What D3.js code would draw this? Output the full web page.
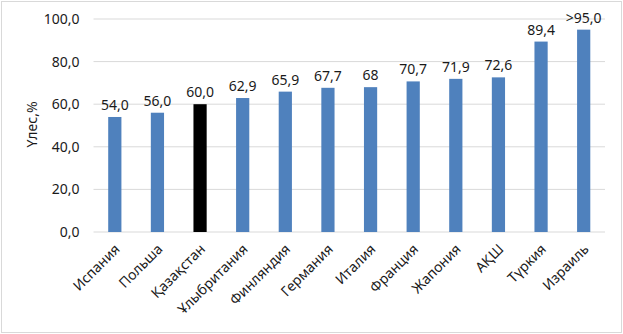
<!DOCTYPE html>
<html>
<head>
<meta charset="utf-8" />
<script src="https://d3js.org/d3.v7.min.js"></script>
<style>
  body { margin: 0; background: #fff; }
  text { font-family: "Noto Sans", sans-serif; fill: #1a1a1a; }
</style>
</head>
<body>
<div id="chart"></div>
<script>
var countries = ["Испания", "Польша", "Қазақстан", "Ұлыбритания", "Финляндия", "Германия",
                 "Италия", "Франция", "Жапония", "АҚШ", "Түркия", "Израиль"];
var values = [54.0, 56.0, 60.0, 62.9, 65.9, 67.7, 68, 70.7, 71.9, 72.6, 89.4, 95.0];
var valueLabels = ["54,0", "56,0", "60,0", "62,9", "65,9", "67,7", "68", "70,7", "71,9", "72,6", "89,4", ">95,0"];
var highlight = "Қазақстан";
var yTicks = [0, 20, 40, 60, 80, 100];

var W = 623, H = 334;
var margin = {top: 19, right: 18, bottom: 102, left: 93.5};
var width = W - margin.left - margin.right,
    height = H - margin.top - margin.bottom;

var svg = d3.select("#chart").append("svg")
    .attr("width", W)
    .attr("height", H);

svg.append("rect")
    .attr("x", 1.5).attr("y", 1.5)
    .attr("width", W - 3).attr("height", H - 3)
    .style("fill", "#fff")
    .style("stroke", "#d9d9d9");

var g = svg.append("g")
    .attr("transform", "translate(" + margin.left + "," + margin.top + ")");

var x = d3.scaleBand()
    .domain(countries)
    .range([0, width])
    .paddingInner(0.69)
    .paddingOuter(0.345);

var y = d3.scaleLinear()
    .domain([0, 100])
    .range([height, 0]);

// gridlines
g.selectAll(".grid")
    .data(yTicks)
    .enter().append("line")
    .attr("x1", 0).attr("x2", width)
    .attr("y1", function(d) { return y(d); })
    .attr("y2", function(d) { return y(d); })
    .style("stroke", "#d9d9d9")
    .style("stroke-width", 1);

var yAxis = d3.axisLeft(y)
    .tickValues(yTicks)
    .tickSize(0)
    .tickPadding(14)
    .tickFormat(function(d) { return d3.format(".1f")(d).replace(".", ","); });

g.append("g")
    .attr("class", "y axis")
    .call(yAxis)
    .call(function(s) { s.select(".domain").remove(); })
    .selectAll("text")
    .style("font-size", "14px")
    .style("font-family", "'Noto Sans', sans-serif")
    .style("fill", "#1a1a1a");

g.selectAll(".bar")
    .data(values)
    .enter().append("rect")
    .attr("class", "bar")
    .attr("x", function(d, i) { return x(countries[i]); })
    .attr("y", function(d) { return y(d); })
    .attr("width", x.bandwidth())
    .attr("height", function(d) { return height - y(d); })
    .style("fill", function(d, i) { return countries[i] === highlight ? "#000" : "#4f81bd"; });

g.selectAll(".valLabel")
    .data(values)
    .enter().append("text")
    .attr("class", "valLabel")
    .attr("x", function(d, i) { return x(countries[i]) + x.bandwidth() / 2; })
    .attr("y", function(d) { return y(d) - 7; })
    .attr("text-anchor", "middle")
    .style("font-size", "14px")
    .text(function(d, i) { return valueLabels[i]; });

var xAxis = d3.axisBottom(x).tickSize(0).tickPadding(0);
var xg = g.append("g")
    .attr("class", "x axis")
    .attr("transform", "translate(0," + height + ")")
    .call(xAxis);
xg.select(".domain").remove();
xg.selectAll("text")
    .attr("text-anchor", "end")
    .attr("dy", null)
    .attr("y", null)
    .attr("transform", "translate(6,18) rotate(-45)")
    .style("font-size", "14px")
    .style("font-family", "'Noto Sans', sans-serif")
    .style("fill", "#1a1a1a");

svg.append("text")
    .attr("transform", "translate(37," + (margin.top + y(50) - 1) + ") rotate(-90)")
    .attr("text-anchor", "middle")
    .style("font-size", "14px")
    .text("Үлес,%");
</script>
</body>
</html>
